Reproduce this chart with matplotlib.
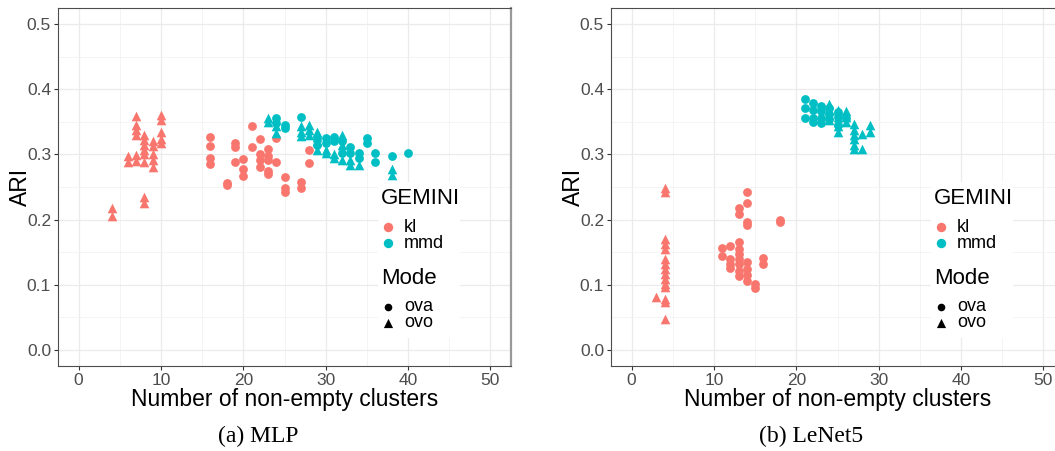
import matplotlib
matplotlib.use("Agg")
import matplotlib.pyplot as plt
from matplotlib.patches import Rectangle
from matplotlib.ticker import MultipleLocator, FormatStrFormatter

plt.rcParams["font.family"] = ["Liberation Sans", "DejaVu Sans"]

KL_COLOR = "#F8766D"
MMD_COLOR = "#00BFC4"

# ---- MLP ----
mlp_kl_ova_n = [16, 16, 16, 16, 18, 18, 19, 19, 19, 20, 20, 20, 21, 21,
                22, 22, 22, 22, 23, 23, 23, 23, 23, 24, 24, 25, 25, 25,
                27, 27, 28, 28]
mlp_kl_ova_ari = [0.327, 0.313, 0.295, 0.286, 0.256, 0.253, 0.318, 0.311, 0.289,
                  0.293, 0.277, 0.267, 0.343, 0.312, 0.323, 0.300, 0.292, 0.281,
                  0.309, 0.298, 0.292, 0.275, 0.270, 0.325, 0.289, 0.266, 0.248,
                  0.242, 0.257, 0.249, 0.307, 0.287]

mlp_kl_ovo_n = [4, 4, 6, 6, 7, 7, 7, 7, 7, 7, 8, 8, 8, 8, 8, 8, 8, 8,
                9, 9, 9, 9, 9, 10, 10, 10, 10, 10]
mlp_kl_ovo_ari = [0.218, 0.206, 0.297, 0.289, 0.359, 0.345, 0.337, 0.330, 0.299,
                  0.290, 0.330, 0.322, 0.315, 0.307, 0.300, 0.289, 0.234, 0.226,
                  0.320, 0.313, 0.300, 0.292, 0.281, 0.361, 0.353, 0.334, 0.323,
                  0.318]

mlp_mmd_ova_n = [24, 24, 25, 25, 27, 29, 29, 30, 30, 31, 31, 32, 32, 33, 33,
                 34, 34, 35, 35, 36, 36, 38, 40]
mlp_mmd_ova_ari = [0.356, 0.349, 0.346, 0.341, 0.358, 0.325, 0.315, 0.326, 0.318,
                   0.327, 0.320, 0.320, 0.303, 0.312, 0.303, 0.303, 0.295, 0.326,
                   0.318, 0.303, 0.289, 0.298, 0.303]

mlp_mmd_ovo_n = [23, 23, 24, 24, 27, 27, 27, 28, 28, 28, 29, 29, 29, 29,
                 30, 30, 31, 31, 32, 32, 32, 33, 33, 34, 38, 38]
mlp_mmd_ovo_ari = [0.356, 0.350, 0.343, 0.333, 0.343, 0.335, 0.329, 0.346, 0.338,
                   0.330, 0.335, 0.327, 0.320, 0.307, 0.307, 0.303, 0.300, 0.295,
                   0.330, 0.315, 0.292, 0.292, 0.284, 0.284, 0.277, 0.269]

# ---- LeNet5 ----
lenet_kl_ova_n = [11, 11, 12, 12, 12, 12, 13, 13, 13, 13, 13, 13, 13, 13, 13,
                  14, 14, 14, 14, 14, 14, 14, 14, 15, 15, 16, 16, 18, 18]
lenet_kl_ova_ari = [0.156, 0.144, 0.159, 0.139, 0.131, 0.125, 0.217, 0.209, 0.165,
                    0.154, 0.147, 0.139, 0.131, 0.121, 0.113, 0.242, 0.225, 0.196,
                    0.191, 0.135, 0.124, 0.115, 0.106, 0.101, 0.095, 0.141, 0.131,
                    0.200, 0.196]

lenet_kl_ovo_n = [3] + [4] * 15
lenet_kl_ovo_ari = [0.081, 0.249, 0.242, 0.170, 0.162, 0.154, 0.139, 0.131, 0.124,
                    0.116, 0.109, 0.101, 0.096, 0.078, 0.073, 0.047]

lenet_mmd_ova_n = [21, 21, 21, 22, 22, 22, 22, 23, 23, 23, 23, 24, 24, 24,
                   25, 25, 25, 26]
lenet_mmd_ova_ari = [0.385, 0.372, 0.356, 0.379, 0.368, 0.356, 0.350, 0.375, 0.366,
                     0.356, 0.349, 0.372, 0.362, 0.355, 0.365, 0.358, 0.346, 0.356]

lenet_mmd_ovo_n = [24, 24, 24, 24, 25, 25, 25, 25, 25, 26, 26, 26,
                   27, 27, 27, 27, 27, 27, 28, 28, 29, 29]
lenet_mmd_ovo_ari = [0.378, 0.368, 0.361, 0.353, 0.368, 0.358, 0.350, 0.343, 0.335,
                     0.367, 0.358, 0.350, 0.347, 0.338, 0.330, 0.323, 0.315, 0.309,
                     0.332, 0.309, 0.346, 0.335]

gemini_labels = ["kl", "mmd"]
gemini_colors = [KL_COLOR, MMD_COLOR]
mode_labels = ["ova", "ovo"]
mode_markers = ["o", "^"]

panels = [
    ("(a) MLP", [(mlp_kl_ova_n, mlp_kl_ova_ari, KL_COLOR, "o"),
                 (mlp_kl_ovo_n, mlp_kl_ovo_ari, KL_COLOR, "^"),
                 (mlp_mmd_ova_n, mlp_mmd_ova_ari, MMD_COLOR, "o"),
                 (mlp_mmd_ovo_n, mlp_mmd_ovo_ari, MMD_COLOR, "^")]),
    ("(b) LeNet5", [(lenet_kl_ova_n, lenet_kl_ova_ari, KL_COLOR, "o"),
                    (lenet_kl_ovo_n, lenet_kl_ovo_ari, KL_COLOR, "^"),
                    (lenet_mmd_ova_n, lenet_mmd_ova_ari, MMD_COLOR, "o"),
                    (lenet_mmd_ovo_n, lenet_mmd_ovo_ari, MMD_COLOR, "^")]),
]

W, H = 1055, 451
fig = plt.figure(figsize=(W / 100, H / 100), dpi=100)

# panel boxes in pixels: left, top, width, height
boxes = [(58, 8, 453, 358), (611, 8, 453, 358)]
# centre of each sub-figure caption (x, y) in pixels
caption_pos = [(258, 436), (811, 436)]


def add_legend(ax, pw, ph):
    # ggplot-style legend drawn in pixel offsets from the panel's top-left corner
    def pt(dx, dy):
        return dx / pw, 1 - dy / ph

    x0, y0 = pt(320, 174)
    x1, y1 = pt(402, 330)
    ax.add_patch(Rectangle((x0, y1), x1 - x0, y0 - y1, transform=ax.transAxes,
                           facecolor="white", edgecolor="none", zorder=4))
    kw = dict(transform=ax.transAxes, ha="left", va="center", zorder=5)
    ax.text(*pt(323, 191), "GEMINI", fontsize=16, **kw)
    for i, (lab, col) in enumerate(zip(gemini_labels, gemini_colors)):
        y = 219 + 16 * i
        ax.scatter(*pt(330, y), s=46, c=col, marker="o", linewidths=0,
                   transform=ax.transAxes, zorder=5, clip_on=False)
        ax.text(*pt(346, y), lab, fontsize=13, **kw)
    ax.text(*pt(323, 270), "Mode", fontsize=16, **kw)
    for i, (lab, mk) in enumerate(zip(mode_labels, mode_markers)):
        y = 298.5 + 16 * i
        ax.scatter(*pt(330, y), s=30 if mk == "o" else 44, c="black", marker=mk,
                   linewidths=0, transform=ax.transAxes, zorder=5, clip_on=False)
        ax.text(*pt(346, y), lab, fontsize=13, **kw)


for (caption, groups), (px, py, pw, ph), (cx, cy) in zip(panels, boxes, caption_pos):
    ax = fig.add_axes([px / W, (H - py - ph) / H, pw / W, ph / H])
    ax.set_xlim(-2.5, 52.5)
    ax.set_ylim(-0.025, 0.525)
    ax.xaxis.set_major_locator(MultipleLocator(10))
    ax.xaxis.set_minor_locator(MultipleLocator(5))
    ax.yaxis.set_major_locator(MultipleLocator(0.1))
    ax.yaxis.set_minor_locator(MultipleLocator(0.05))
    ax.yaxis.set_major_formatter(FormatStrFormatter("%.1f"))
    ax.grid(which="major", color="#EBEBEB", linewidth=0.9)
    ax.grid(which="minor", color="#F2F2F2", linewidth=0.6)
    ax.set_axisbelow(True)
    ax.tick_params(which="major", length=3, width=0.8, color="#333333",
                   labelsize=12.5, labelcolor="#4D4D4D", pad=2)
    ax.tick_params(which="minor", length=0)
    for side in ("left", "bottom", "top"):
        ax.spines[side].set_color("#4D4D4D")
        ax.spines[side].set_linewidth(0.8)
    ax.spines["right"].set_color("#999999")
    ax.spines["right"].set_linewidth(1.6)

    for n, ari, color, marker in groups:
        ax.scatter(n, ari, s=40 if marker == "o" else 48, c=color, marker=marker,
                   linewidths=0, zorder=3)

    ax.set_xlabel("Number of non-empty clusters", fontsize=16.5, labelpad=0)
    ax.set_ylabel("ARI", fontsize=16.5)
    # right edge of the rotated label sits just left of the tick labels
    ax.yaxis.set_label_coords(-26 / pw, 0.5)

    add_legend(ax, pw, ph)

    fig.text(cx / W, 1 - cy / H, caption, ha="center", va="center",
             fontsize=17, family=["Liberation Serif", "DejaVu Serif"])

fig.savefig("out.png", dpi=100)
